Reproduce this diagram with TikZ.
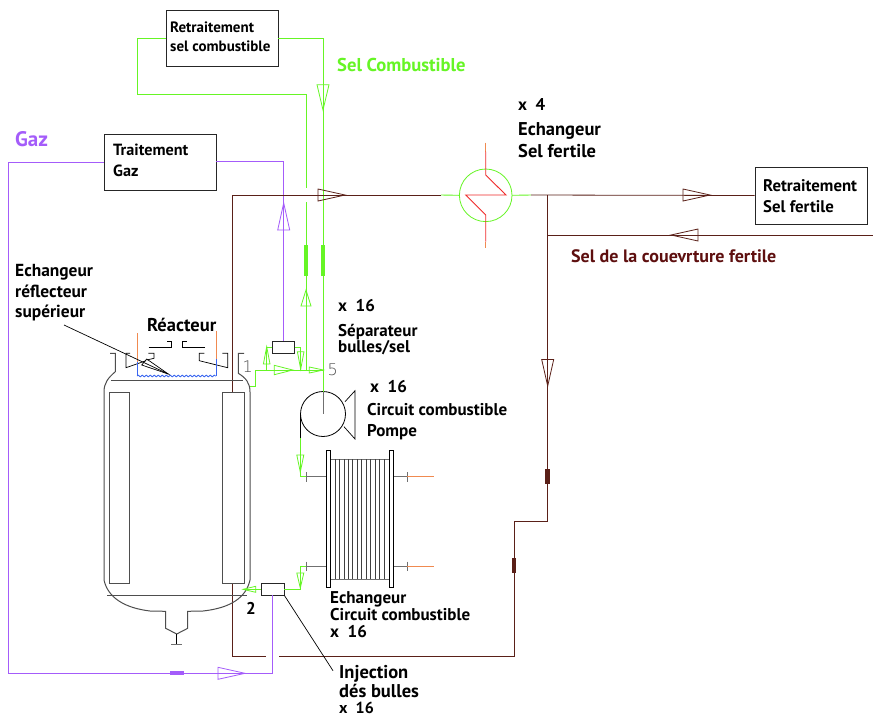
\documentclass[tikz,border=0pt]{standalone}
\usepackage{fontspec}
\setmainfont{PT Sans}
\usetikzlibrary{decorations.pathmorphing}
\definecolor{gn}{HTML}{66F525}
\definecolor{pu}{HTML}{A45CFA}
\definecolor{br}{HTML}{5A2018}
\definecolor{dr}{HTML}{5E0F0F}
\definecolor{gy}{HTML}{707070}
\definecolor{og}{HTML}{F08A50}
\definecolor{bl}{HTML}{3A66F0}
\definecolor{rd}{HTML}{F02A2A}
\newcommand{\fs}[2]{\fontsize{#1}{#2}\selectfont\bfseries}
\tikzset{x=1pt,y=-1pt,
 gnl/.style={draw=gn,line width=.9pt},
 pul/.style={draw=pu,line width=.9pt},
 brl/.style={draw=br,line width=.8pt},
 blk/.style={draw=black,line width=.7pt},
 wall/.style={draw=gy!70!black,line width=1pt},
 tag/.style={inner sep=0pt,align=left,anchor=north west,font=\fs{17}{20}},
 boxn/.style={draw=black!85,line width=.8pt,fill=white,inner sep=0pt}}
\newcommand{\arrU}[5][gn]{\draw[draw=#1,line width=.8pt] (#2-#5,#4)--(#2+#5,#4)--(#2,#3)--cycle;}
\newcommand{\arrR}[5][br]{\draw[draw=#1,line width=.8pt] (#3,#2-#5)--(#3,#2+#5)--(#4,#2)--cycle;}
\begin{document}
\begin{tikzpicture}
\useasboundingbox (0,0) rectangle (873,716);
\fill[white] (0,0) rectangle (873,716);
% boxes
\node[boxn,minimum width=112pt,minimum height=56pt] (rsc) at (222,38) {};
\node[boxn,minimum width=112pt,minimum height=56pt] (tg) at (160,162) {};
\node[boxn,minimum width=112pt,minimum height=57pt] (rsf) at (811,195.5) {};
\node[boxn,minimum width=23pt,minimum height=11.5pt] (inj) at (272.5,589.3) {};
\node[boxn,minimum width=22pt,minimum height=11.5pt] (sep) at (283.7,347.5) {};
\node[draw=gn,line width=.8pt,circle,minimum size=52.6pt,inner sep=0pt] (hx) at (485.7,195.3) {};
\node[draw=black,line width=.8pt,circle,minimum size=45pt,inner sep=0pt] (pump) at (323,414) {};
% fuel salt
\coordinate (a1) at (137,38.5); \coordinate (a2) at (137,94.7); \coordinate (a3) at (306,94.7);
\coordinate (a4) at (306,188); \coordinate (a5) at (306,202); \coordinate (a6) at (306,370);
\coordinate (b1) at (323,38.5); \coordinate (b2) at (323,391.5);
\draw[gnl] (rsc.west|-a1) -- (a1) -- (a2) -- (a3) -- (a4);
\draw[gnl] (a5) -- (a6);
\draw[gnl] (rsc.east|-b1) -- (b1) -- (b2);
\draw[draw=gy,line width=.8pt] (b2) -- (pump.center);
\draw[gn,line width=4pt] (306,245)--(306,276) (323,245)--(323,276);
\arrU{323}{110}{84.7}{6}
\arrU{306}{290}{306}{5}
% gas
\coordinate (c1) at (283.7,161.7);
\draw[pul] (tg.east|-c1) -- (c1) -- (sep.north);
\arrU[pu]{283.7}{203}{230}{6}
\coordinate (c2) at (8,162); \coordinate (c3) at (8,673.3); \coordinate (c4) at (272.7,673.3);
\draw[pul] (tg.west|-c2) -- (c2) -- (c3) -- (c4) -- (c4|-inj.south);
\draw[pu,line width=4pt] (170,673.3)--(184,673.3);
\arrR[pu]{673.3}{218}{245}{6}
% brown
\coordinate (d1) at (232.7,195); \coordinate (d2) at (232.7,392.3);
\coordinate (d3) at (232.7,583.3); \coordinate (d4) at (232.7,656); \coordinate (d5) at (265.7,656);
\coordinate (d6) at (279,656); \coordinate (d7) at (514,656); \coordinate (d8) at (514,521.5);
\coordinate (d9) at (547.7,521.5); \coordinate (d10) at (547.7,195); \coordinate (d11) at (547.7,235);
\draw[brl] (d2) -- (d1) -- (441,195);
\draw[gnl] (441,195) -- (hx.west);
\draw[gnl] (hx.east) -- (531,195);
\draw[brl] (531,195) -- (rsf.west);
\draw[brl] (d3) -- (d4) -- (d5);
\draw[brl] (d6) -- (d7) -- (d8) -- (d9) -- (d10);
\draw[brl] (873,235) -- (d11);
\arrR{195}{683}{710}{6}
\arrR{195}{318}{345}{6}
\arrR{235}{698}{671}{6}
\draw[br,line width=.8pt] (541.7,359.5)--(553.7,359.5)--(547.7,386)--cycle;
\draw[br,line width=4.5pt] (547.7,469)--(547.7,484) (514,558)--(514,573);
% exchanger zigzag
\draw[og,line width=.8pt] (485.7,142.7)--(485.7,151.7) (485.7,241.7)--(485.7,248);
\draw[rd,line width=.9pt] (485.7,151.7)--(485.7,175)--(506,195)--(465.7,195)--(485.7,215)--(485.7,241.7);
% reactor
\draw[wall] (110,353.3)--(115.3,353.3)--(115.3,371.7) .. controls (108,378) and (104,383) .. (104,392)--(104,580) .. controls (108,598) and (125,608) .. (150,611)--(165.7,611.3)--(165.7,628.3)--(176.7,634)--(187.7,628.3)--(187.7,611.3)--(203,611) .. controls (230,608) and (246,598) .. (250,580)--(250,392) .. controls (250,383) and (246,378) .. (238.3,373.3)--(238.3,353.3)--(244,353.3);
\draw[wall] (111,380.7)--(243,380.7);
\draw[wall] (107,595)--(247,595);
\draw[wall] (109.3,392.3) rectangle (129.3,583.3);
\draw[wall] (222,392.3) rectangle (244.3,583.3);
\draw[blk] (176.7,634)--(176.7,644);
\draw[draw=gy,line width=1pt] (171,644)--(182,644);
% top of reactor
\draw[blk] (148.7,347.7)--(171.7,347.7)--(171.7,341.7)--(167.3,341.7);
\draw[blk] (205,347.7)--(182,347.7)--(182,341.7)--(186.7,341.7);
\draw[blk] (130,353.3)--(126,353.3)--(126,367.7)--(146,360.7);
\draw[blk] (148.3,353.3)--(154,353.3)--(154,358.3)--(146.7,360);
\draw[blk] (204.3,353.3)--(199.3,353.3)--(199.3,360.7)--(227.7,367.7)--(227.7,353.3)--(222.3,353.3);
\draw[og,line width=.8pt] (137,333.3)--(137,361.7) (216,330.7)--(216,359.3);
\draw[bl,line width=.8pt] (137,361.7)--(137,376);
\draw[bl,line width=.8pt] (216,359.3)--(216,376);
\draw[bl,line width=.8pt,decorate,decoration={snake,amplitude=.9pt,segment length=4pt}] (137,376)--(216,376);
\coordinate (r1) at (64,325); \coordinate (r2) at (168.3,374);
\draw[blk] (r1)--(r2);
\draw[blk] (146.7,359)--(141.7,365)--(r2)--cycle;
% separator circuit
\coordinate (e1) at (250,386.7); \coordinate (e2) at (255.7,386.7); \coordinate (e3) at (255.7,370); \coordinate (e4) at (323.3,370);
\coordinate (f1) at (266.7,347.7); \coordinate (f2) at (266.7,370); \coordinate (f3) at (300.7,347.7); \coordinate (f4) at (300.7,370);
\draw[gnl] (e1)--(e2)--(e3)--(e4);
\draw[gnl] (sep.west|-f1)--(f1)--(f2);
\draw[gnl] (sep.east|-f3)--(f3)--(f4);
\arrR[gn]{370}{274.3}{292.7}{4.7}
\arrR[gn]{370}{309.3}{323.3}{3}
\arrU[gn]{266.7}{346.7}{364}{3.3}
\arrU[gn]{300.7}{369.3}{351.7}{3.3}
% pump
\draw[blk] (345,401.7)--(355,390.7)--(355,439)--(344,426.7);
\draw[blk] (300.7,414)--(300.7,438);
\coordinate (g1) at (300.3,438); \coordinate (g2) at (300.3,476.7); \coordinate (g3) at (306,476.7);
\coordinate (h1) at (284,589.3); \coordinate (h2) at (300.3,589.3); \coordinate (h3) at (300.3,566.3); \coordinate (h4) at (306,566.3);
\draw[gnl] (g1)--(g2)--(g3);
\arrU[gn]{300.3}{472}{455}{3.5}
\draw[gnl] (inj.east|-h1)--(h2)--(h3)--(h4);
\arrU[gn]{300.3}{588}{573}{3.5}
\draw[gnl] (inj.west|-h1)--(243,589.3);
\arrR[gn]{589.3}{255.7}{243}{3}
\coordinate (i1) at (333,670.7);
\draw[blk] (inj.south east)--(i1);
% heat exchanger
\draw[draw=gy,line width=.9pt] (306,476.7)--(326.7,476.7) (306,566.3)--(326.7,566.3) (393.7,476.7)--(407,476.7) (393.7,566.3)--(407,566.3) (306,472)--(306,481.5) (306,561.5)--(306,571) (407,472)--(407,481.5) (407,561.5)--(407,571);
\draw[og,line width=.8pt] (407,476.7)--(434,476.7) (407,566.3)--(434,566.3);
\draw[draw=gy,line width=1pt] (330,459)--(389,459) (330,579)--(389,579);
\foreach \k in {0,...,11} \draw[draw=black!75,line width=.8pt] ({335+\k*4.45},459)--({335+\k*4.45},579);
\draw[blk,line width=.9pt] (326.7,450) rectangle (330.5,587);
\draw[blk,line width=.9pt] (389,450) rectangle (393.7,587);
% text
\node[tag,font=\fs{15}{19}] (t1) at (170,21.5) {Retraitement\\sel combustible};
\node[tag,font=\fs{16.2}{21}] (t2) at (113,143.5) {Traitement\\Gaz};
\node[tag,font=\fs{16.8}{21}] (t3) at (763,179.5) {Retraitement\\Sel fertile};
\node[tag,text=gn,font=\fs{18.6}{20}] (t4) at (337,58) {Sel Combustible};
\node[tag,text=pu,font=\fs{21}{21}] (t5) at (15,131) {Gaz};
\node[tag] (t6) at (518,98.5) {x\ \ 4};
\node[tag,font=\fs{18.5}{22}] (t7) at (518,122.5) {Echangeur\\Sel fertile};
\node[tag,text=dr,font=\fs{18}{20}] (t8) at (571,249) {Sel de la couevrture fertile};
\node[tag,font=\fs{17.4}{20.5}] (t9) at (15,264.5) {Echangeur\\réflecteur\\supérieur};
\node[tag,font=\fs{18.5}{20}] (t10) at (147,318) {Réacteur};
\node[tag] (t11) at (338,299.5) {x\ \ 16};
\node[tag,font=\fs{17}{14.5}] (t12) at (338,324) {Séparateur\\bulles/sel};
\node[tag] (t13) at (370,380.5) {x\ \ 16};
\node[tag,font=\fs{17}{21}] (t14) at (367,403.5) {Circuit combustible\\Pompe};
\node[tag,font=\fs{17}{17}] (t15) at (330,591.5) {Echangeur\\Circuit combustible};
\node[tag] (t16) at (330,625.5) {x\ \ 16};
\node[tag] (t17) at (246,602.5) {2};
\node[tag,font=\fs{18.5}{16}] (t18) at (339,665.5) {Injection\\dés bulles};
\node[tag,anchor=base west,font=\fs{16}{20}] (t19) at (339,713) {x\ \ 16};
\node[anchor=center,inner sep=0pt,text=gy!70!black,font=\fontsize{16}{16}\fontspec{DejaVu Sans ExtraLight}] (n1) at (247.7,367) {1};
\node[anchor=center,inner sep=0pt,text=gy!70!black,font=\fontsize{16}{16}\fontspec{DejaVu Sans ExtraLight}] (n5) at (332.7,369.3) {5};
\end{tikzpicture}
\end{document}
